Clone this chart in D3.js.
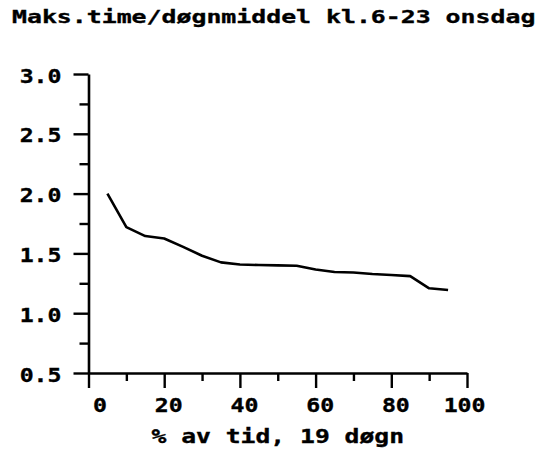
<!DOCTYPE html>
<html>
<head>
<meta charset="utf-8">
<script src="https://cdn.jsdelivr.net/npm/d3@7"></script>
<style>
  html, body { margin: 0; padding: 0; background: #fff; }
  svg { display: block; }
  text { font-family: "DejaVu Sans Mono", "Liberation Mono", monospace; font-weight: bold; fill: #000; stroke: #000; stroke-width: 0.35px; }
</style>
</head>
<body>
<svg id="chart" width="540" height="454"></svg>
<script>
// ---- data ----
const titleText = "Maks.time/døgnmiddel kl.6-23 onsdag";
const xAxisTitle = "% av tid, 19 døgn";
const xPercent = [5, 10, 15, 20, 25, 30, 35, 40, 45, 50, 55, 60, 65, 70, 75, 80, 85, 90, 95];
const ratio    = [2.00, 1.72, 1.645, 1.625, 1.555, 1.48, 1.425, 1.407, 1.403, 1.40, 1.397, 1.365, 1.345, 1.34, 1.328, 1.32, 1.31, 1.208, 1.194];
const xMajorTicks = [0, 20, 40, 60, 80, 100];
const xMinorTicks = [10, 30, 50, 70, 90];
const yMajorTicks = [0.5, 1.0, 1.5, 2.0, 2.5, 3.0];
const yMinorTicks = [0.75, 1.25, 1.75, 2.25, 2.75];

// ---- layout ----
const svg = d3.select("#chart");
const x = d3.scaleLinear().domain([0, 100]).range([88.5, 467]);
const y = d3.scaleLinear().domain([0.5, 3.0]).range([373, 74]);

const tickScale = 1.22, tickFont = 19;

// title
svg.append("text")
  .attr("transform", "translate(12,23) scale(1.38,1)")
  .attr("font-size", 18)
  .text(titleText);

// y axis major
const yAx = svg.append("g").attr("transform", `translate(${x(0)},0)`)
  .call(d3.axisLeft(y).tickValues(yMajorTicks).tickSize(15).tickSizeOuter(0).tickFormat(d3.format(".1f")));
yAx.select(".domain").attr("stroke", "#000").attr("stroke-width", 2.6);
yAx.selectAll(".tick line").attr("stroke", "#000").attr("stroke-width", 2.4);
yAx.selectAll(".tick text")
  .attr("x", null).attr("dy", null)
  .attr("transform", `translate(-27,8) scale(${tickScale},1)`)
  .attr("font-size", tickFont)
  .attr("font-family", null)
  .attr("fill", "#000");

// y axis minor
const yMin = svg.append("g").attr("transform", `translate(${x(0)},0)`)
  .call(d3.axisLeft(y).tickValues(yMinorTicks).tickSize(9).tickSizeOuter(0).tickFormat(""));
yMin.select(".domain").remove();
yMin.selectAll(".tick line").attr("stroke", "#000").attr("stroke-width", 2.4);

// x axis major
const xAx = svg.append("g").attr("transform", `translate(0,${y(0.5)})`)
  .call(d3.axisBottom(x).tickValues(xMajorTicks).tickSize(15).tickSizeOuter(0).tickFormat(d3.format("d")));
xAx.select(".domain").attr("stroke", "#000").attr("stroke-width", 2.6);
xAx.selectAll(".tick line").attr("stroke", "#000").attr("stroke-width", 2.4);
xAx.selectAll(".tick text")
  .attr("y", null).attr("dy", null)
  .attr("text-anchor", "end")
  .attr("transform", `translate(18,39) scale(${tickScale},1)`)
  .attr("font-size", tickFont)
  .attr("font-family", null)
  .attr("fill", "#000");

// x axis minor
const xMin = svg.append("g").attr("transform", `translate(0,${y(0.5)})`)
  .call(d3.axisBottom(x).tickValues(xMinorTicks).tickSize(8).tickSizeOuter(0).tickFormat(""));
xMin.select(".domain").remove();
xMin.selectAll(".tick line").attr("stroke", "#000").attr("stroke-width", 2.4);

// x axis title
svg.append("text")
  .attr("transform", `translate(${(x(0) + x(100)) / 2},443) scale(1.3,1)`)
  .attr("text-anchor", "middle")
  .attr("font-size", 19)
  .text(xAxisTitle);

// line
const data = xPercent.map((d, i) => ({ x: d, y: ratio[i] }));
svg.append("path")
  .datum(data)
  .attr("fill", "none")
  .attr("stroke", "#000")
  .attr("stroke-width", 2.6)
  .attr("stroke-linejoin", "round")
  .attr("d", d3.line().x(d => x(d.x)).y(d => y(d.y)));
</script>
</body>
</html>
